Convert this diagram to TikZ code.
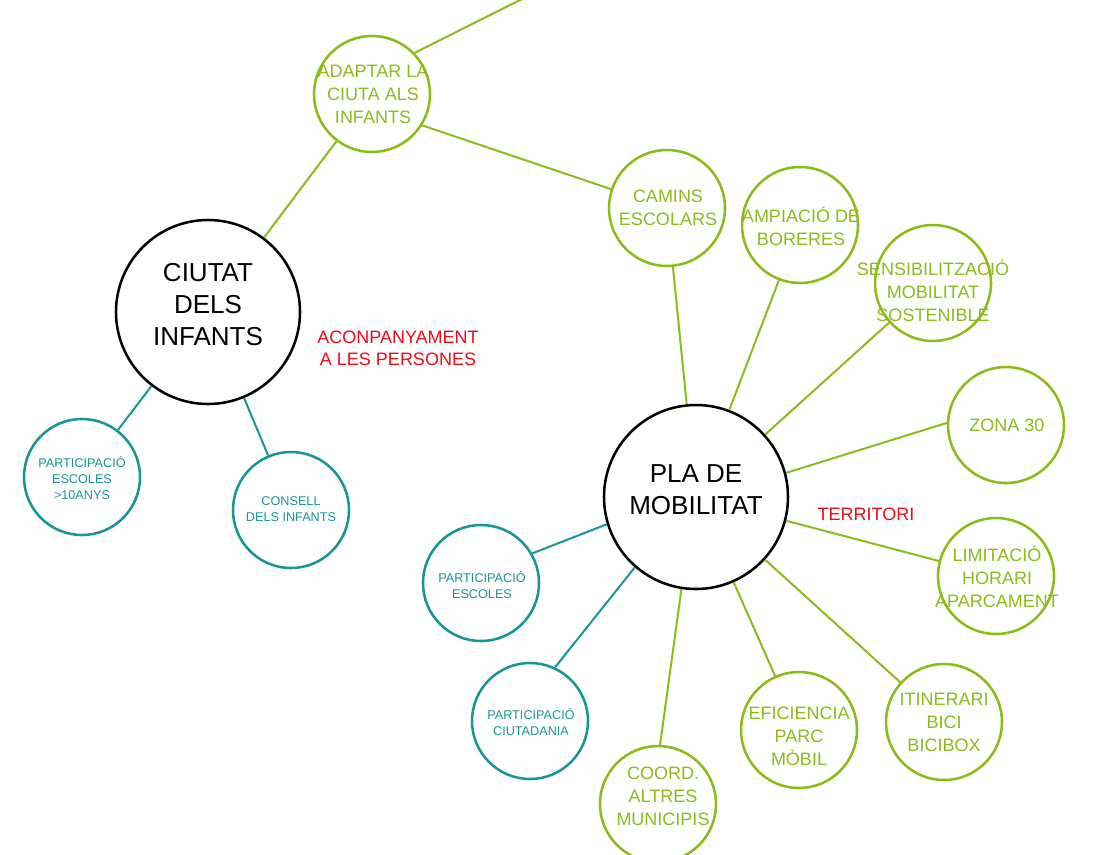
\documentclass[tikz,border=0pt]{standalone}
\usepackage{fontspec}
\setmainfont{Liberation Sans}
\definecolor{lgreen}{RGB}{141,187,26}
\definecolor{lteal}{RGB}{22,150,150}
\definecolor{lred}{RGB}{240,10,20}
\tikzset{
  circ/.style={circle, draw, line width=1.9pt, inner sep=0pt, minimum size=87pt},
  gc/.style={circ, draw=lgreen},
  tc/.style={circ, draw=lteal},
  bc/.style={circle, draw=black, line width=1.9pt, inner sep=0pt, minimum size=138pt},
  gt/.style={text=lgreen, align=center, inner sep=0pt, font=\fontsize{13.5}{17.25}\selectfont},
  tt/.style={text=lteal, align=center, inner sep=0pt, font=\fontsize{9.5}{12}\selectfont},
  bt/.style={text=black, align=center, inner sep=0pt, font=\fontsize{19.5}{24}\selectfont},
  rt/.style={text=lred, align=center, inner sep=0pt, font=\fontsize{13.5}{16.5}\selectfont},
  gl/.style={draw=lgreen, line width=1.5pt},
  tl/.style={draw=lteal, line width=1.5pt},
}
\begin{document}
\begin{tikzpicture}[x=0.75pt, y=-0.75pt]
\fill[white] (0,0) rectangle (1093,854);
\useasboundingbox (0,0) rectangle (1093,854);
\clip (0,0) rectangle (1093,854);

% circles
\node[gc] (adaptar) at (372,94) {};
\node[bc] (ciutat) at (208,312) {};
\node[tc] (pe10) at (82,477) {};
\node[tc] (consell) at (291,510) {};
\node[gc] (camins) at (667,208) {};
\node[gc] (ampiacio) at (800,225) {};
\node[gc] (sensib) at (933,283) {};
\node[gc] (zona) at (1006,425) {};
\node[bc] (pla) at (696,497) {};
\node[gc] (limit) at (996,576) {};
\node[gc] (itin) at (944,722) {};
\node[gc] (efic) at (799,730) {};
\node[gc] (coord) at (658,804) {};
\node[tc] (pciut) at (530,721) {};
\node[tc] (pesc) at (481,583) {};
\coordinate (far) at (600,-40);

% texts
\node[gt] (adaptarT) at (373,94) {ADAPTAR LA\\CIUTA ALS\\INFANTS};
\node[bt] (ciutatT) at (208,305) {CIUTAT\\DELS\\INFANTS};
\node[tt] (pe10T) at (82,478) {PARTICIPACIÓ\\ESCOLES\\>10ANYS};
\node[tt] (consellT) at (291,509) {CONSELL\\DELS INFANTS};
\node[gt] (caminsT) at (668,208) {CAMINS\\ESCOLARS};
\node[gt] (ampiacioT) at (801,226) {AMPIACIÓ DE\\BORERES};
\node[gt] (sensibT) at (933,291) {SENSIBILITZACIÓ\\MOBILITAT\\SOSTENIBLE};
\node[gt] (zonaT) at (1007,425) {ZONA 30};
\node[bt] (plaT) at (696,490) {PLA DE\\MOBILITAT};
\node[gt] (limitT) at (997,577) {LIMITACIÓ\\HORARI\\APARCAMENT};
\node[gt] (itinT) at (944,722) {ITINERARI\\BICI\\BICIBOX};
\node[gt] (eficT) at (799,736) {EFICIENCIA\\PARC\\MÒBIL};
\node[gt] (coordT) at (663,796) {COORD.\\ALTRES\\MUNICIPIS};
\node[tt] (pciutT) at (531,722) {PARTICIPACIÓ\\CIUTADANIA};
\node[tt] (pescT) at (482,585) {PARTICIPACIÓ\\ESCOLES};
\node[rt] (acomp) at (398,348) {ACONPANYAMENT\\A LES PERSONES};
\node[rt] (terr) at (866,514) {TERRITORI};

% connectors
\draw[gl] (adaptar.44) -- (far);
\draw[gl] (adaptar) -- (ciutat);
\draw[gl] (adaptar.-32) -- (camins);
\draw[tl] (ciutat) -- (pe10);
\draw[tl] (ciutat) -- (consell);
\draw[gl] (pla) -- (camins);
\draw[gl] (pla) -- (ampiacio);
\draw[gl] (pla) -- (sensib);
\draw[gl] (pla.15) -- (zona.178);
\draw[gl] (pla) -- (limit);
\draw[gl] (pla) -- (itin);
\draw[gl] (pla) -- (efic);
\draw[gl] (pla.-99) -- (coord.88);
\draw[tl] (pla.-131) -- (pciut.65);
\draw[tl] (pla.197) -- (pesc.30);
\end{tikzpicture}
\end{document}
